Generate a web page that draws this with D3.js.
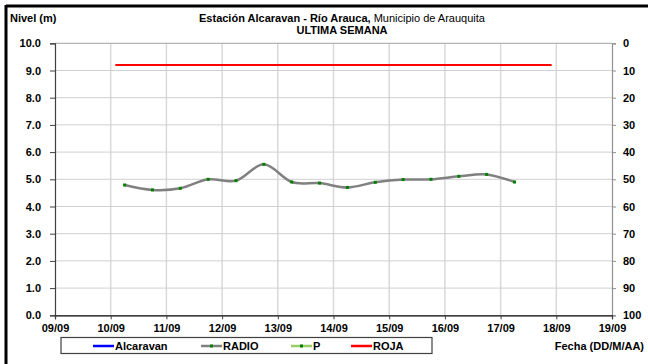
<!DOCTYPE html>
<html><head><meta charset="utf-8">
<script src="https://cdn.jsdelivr.net/npm/d3@7"></script>
<style>
html,body{margin:0;padding:0;background:#fff;}
svg{display:block;font-family:"Liberation Sans",Arial,sans-serif;}
</style></head>
<body><svg id="c" width="648" height="364"></svg>
<script>
// ---- data ----
const xTickLabels = ["09/09","10/09","11/09","12/09","13/09","14/09","15/09","16/09","17/09","18/09","19/09"];
const leftTicks = [0,1,2,3,4,5,6,7,8,9,10];
const rightTicks = [0,10,20,30,40,50,60,70,80,90,100];
const radioTimes = ["10/09 06:00","10/09 18:00","11/09 06:00","11/09 18:00","12/09 06:00","12/09 18:00","13/09 06:00","13/09 18:00","14/09 06:00","14/09 18:00","15/09 06:00","15/09 18:00","16/09 06:00","16/09 18:00","17/09 06:00"];
const radioValues = [4.79,4.61,4.67,5.00,4.95,5.55,4.90,4.86,4.70,4.89,4.99,5.00,5.11,5.18,4.90];
const rojaTimes = ["10/09 02:00","17/09 22:00"];
const rojaValues = [9.2,9.2];
const legendNames = ["Alcaravan","RADIO","P","ROJA"];
const legendColors = ["#0000ff","#808080","#99cc66","#ff0000"];

const parse = d3.timeParse("%d/%m/%Y %H:%M");
const p = s => parse(s.replace(" ", "/2014 "));
const tickDates = xTickLabels.map(s => parse(s + "/2014 00:00"));

const svg = d3.select("#c");
const L = 55, R = 612, T = 43.3, B = 315.3;
const x = d3.scaleTime().domain([tickDates[0], tickDates[tickDates.length-1]]).range([L, R]);
const y = d3.scaleLinear().domain([0,10]).range([B, T]);
const y2 = d3.scaleLinear().domain([0,100]).range([T, B]);

// frame
svg.append("line").attr("x1",6).attr("x2",648).attr("y1",6).attr("y2",6).attr("stroke","#000").attr("stroke-width",3);
svg.append("line").attr("x1",6).attr("x2",6).attr("y1",5).attr("y2",364).attr("stroke","#000").attr("stroke-width",3);

// gridlines
svg.append("g").selectAll("line").data(tickDates.slice(1,-1)).join("line")
  .attr("x1",d=>x(d)).attr("x2",d=>x(d)).attr("y1",T).attr("y2",B)
  .attr("stroke","#d9d9d9").attr("stroke-width",1.5);
svg.append("g").selectAll("line").data(leftTicks.slice(1,-1)).join("line")
  .attr("x1",L).attr("x2",R).attr("y1",d=>y(d)).attr("y2",d=>y(d))
  .attr("stroke","#d0d0d0").attr("stroke-width",1);
// top border
svg.append("line").attr("x1",L).attr("x2",R).attr("y1",T).attr("y2",T).attr("stroke","#a0a0a0").attr("stroke-width",1);

const fontT = "11px";
// left axis
const gl = svg.append("g").attr("transform",`translate(${L},0)`)
  .call(d3.axisLeft(y).tickValues(leftTicks).tickFormat(d3.format(".1f")).tickSize(5).tickPadding(9));
gl.select(".domain").attr("stroke","#404040").attr("stroke-width",1.2);
gl.selectAll(".tick line").attr("stroke","#404040");
gl.selectAll("text").attr("font-size",fontT).attr("font-weight","bold").attr("fill","#000").attr("font-family","Liberation Sans, Arial");

// right axis
const gr = svg.append("g").attr("transform",`translate(${R},0)`)
  .call(d3.axisRight(y2).tickValues(rightTicks).tickSize(4).tickPadding(7));
gr.select(".domain").attr("stroke","#909090").attr("stroke-width",1.2);
gr.selectAll(".tick line").attr("stroke","#909090");
gr.selectAll("text").attr("font-size",fontT).attr("font-weight","bold").attr("fill","#000").attr("font-family","Liberation Sans, Arial");

// bottom axis
const gb = svg.append("g").attr("transform",`translate(0,${B})`)
  .call(d3.axisBottom(x).tickValues(tickDates).tickFormat((d,i)=>xTickLabels[i]).tickSize(4).tickPadding(5));
gb.select(".domain").attr("stroke","#000").attr("stroke-width",1.2);
gb.selectAll(".tick line").attr("stroke","#404040");
gb.selectAll("text").attr("font-size",fontT).attr("font-weight","bold").attr("fill","#000").attr("font-family","Liberation Sans, Arial");

// ROJA line
const line = d3.line().x(d=>x(d[0])).y(d=>y(d[1]));
svg.append("path").datum(rojaTimes.map((t,i)=>[p(t), rojaValues[i]]))
  .attr("d", line).attr("fill","none").attr("stroke","#ff0000").attr("stroke-width",2);

// RADIO
const radio = radioTimes.map((t,i)=>[p(t), radioValues[i]]);
svg.append("path").datum(radio)
  .attr("d", d3.line().x(d=>x(d[0])).y(d=>y(d[1])).curve(d3.curveCatmullRom.alpha(0)))
  .attr("fill","none").attr("stroke","#808080").attr("stroke-width",2.5);
svg.append("g").selectAll("rect").data(radio).join("rect")
  .attr("x",d=>x(d[0])-1.5).attr("y",d=>y(d[1])-1.5).attr("width",3).attr("height",3)
  .attr("fill","#008000");

// titles
const t1 = svg.append("text").attr("x",342).attr("y",22).attr("text-anchor","middle").attr("font-size","11px");
t1.append("tspan").attr("font-weight","bold").text("Estación Alcaravan - Río Arauca,");
t1.append("tspan").text(" Municipio de Arauquita");
svg.append("text").attr("x",342).attr("y",34).attr("text-anchor","middle").attr("font-size","11px").attr("font-weight","bold").text("ULTIMA SEMANA");
svg.append("text").attr("x",10).attr("y",22).attr("font-size","11px").attr("font-weight","bold").text("Nivel (m)");
svg.append("text").attr("x",644).attr("y",350).attr("text-anchor","end").attr("font-size","11px").attr("font-weight","bold").text("Fecha (DD/M/AA)");

// legend
const lg = svg.append("g");
lg.append("rect").attr("x",61).attr("y",337.5).attr("width",371).attr("height",16).attr("fill","#fff").attr("stroke","#404040").attr("stroke-width",1.2);
const lx = [93,201,291,351];
legendNames.forEach((n,i)=>{
  lg.append("line").attr("x1",lx[i]).attr("x2",lx[i]+21).attr("y1",346).attr("y2",346).attr("stroke",legendColors[i]).attr("stroke-width",2.5);
  if (i===1 || i===2) lg.append("rect").attr("x",lx[i]+9).attr("y",344.5).attr("width",3).attr("height",3).attr("fill","#008000");
  lg.append("text").attr("x",lx[i]+22).attr("y",350).attr("font-size","11px").attr("font-weight","bold").text(n);
});
</script></body></html>
